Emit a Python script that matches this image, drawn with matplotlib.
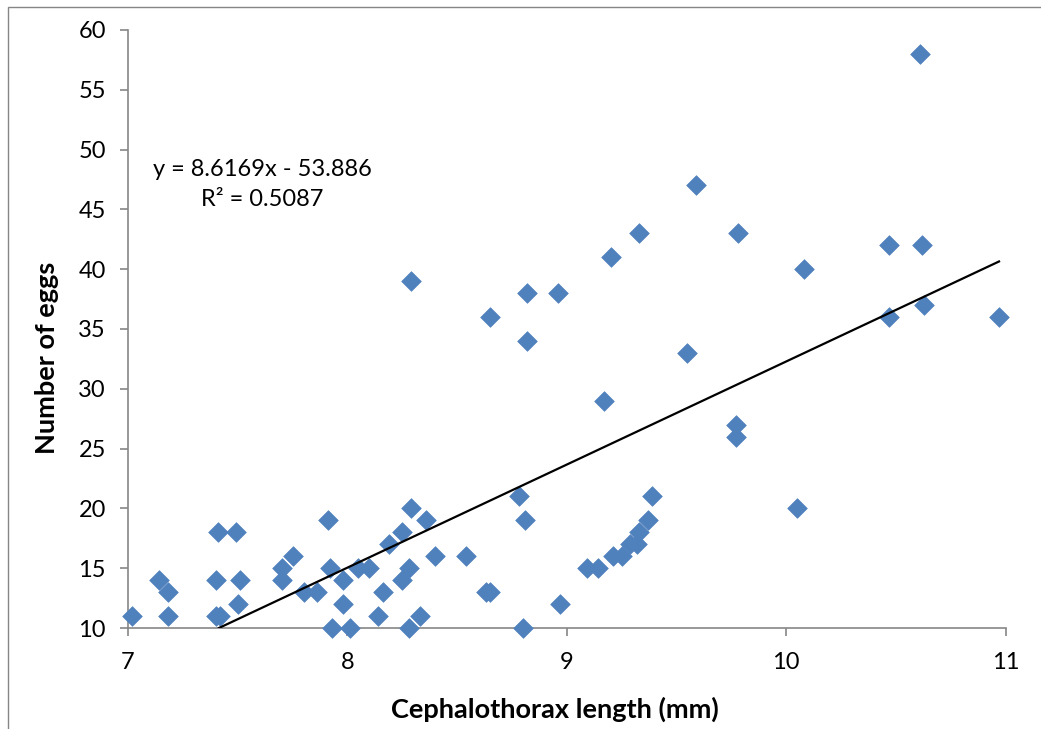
"""Egg count vs cephalothorax length scatter with linear trendline."""

import matplotlib

matplotlib.use("Agg")
import matplotlib.pyplot as plt
from matplotlib.patches import Rectangle

# cephalothorax length (mm) and number of eggs
length_mm = [
    7.02, 7.14, 7.18, 7.18, 7.40, 7.41, 7.49, 7.40, 7.42, 7.51, 7.50,
    7.70, 7.70, 7.75, 7.80, 7.86, 7.91, 7.92, 7.93, 7.98, 7.98, 8.01,
    8.05, 8.10, 8.16, 8.14, 8.19, 8.25, 8.25, 8.28, 8.28, 8.29, 8.29,
    8.33, 8.36, 8.40, 8.54, 8.63, 8.65, 8.65, 8.78, 8.80, 8.81, 8.82,
    8.82, 8.96, 8.97, 9.09, 9.14, 9.17, 9.21, 9.20, 9.25, 9.29, 9.32,
    9.33, 9.33, 9.37, 9.39, 9.55, 9.59, 9.78, 9.77, 9.77, 10.05, 10.08,
    10.47, 10.47, 10.61, 10.62, 10.63, 10.97,
]
eggs = [
    11, 14, 13, 11, 14, 18, 18, 11, 11, 14, 12,
    15, 14, 16, 13, 13, 19, 15, 10, 14, 12, 10,
    15, 15, 13, 11, 17, 18, 14, 15, 10, 20, 39,
    11, 19, 16, 16, 13, 13, 36, 21, 10, 19, 38,
    34, 38, 12, 15, 15, 29, 16, 41, 16, 17, 17,
    18, 43, 19, 21, 33, 47, 43, 27, 26, 20, 40,
    42, 36, 58, 42, 37, 36,
]

slope = 8.6169
intercept = -53.886
r_squared = 0.5087

x_ticks = [7, 8, 9, 10, 11]
y_ticks = [10, 15, 20, 25, 30, 35, 40, 45, 50, 55, 60]

plt.rcParams["font.family"] = ["Lato", "DejaVu Sans"]

W, H = 1041, 729
fig = plt.figure(figsize=(W / 100, H / 100), dpi=100)
ax = fig.add_axes([0.123, 0.1385, 0.843, 0.8205])

# chart-area frame (only the top and left edges are visible in the crop)
fig.patches.append(
    Rectangle((8 / W, -0.5), 2.0, 1.5 - 7 / H, transform=fig.transFigure,
              fill=False, edgecolor="#868686", linewidth=1.0)
)

ax.scatter(length_mm, eggs, marker="D", s=100, color="#4F81BD",
           edgecolors="#4F81BD", linewidths=0.5, zorder=3, clip_on=False)

x0, x1 = min(length_mm), max(length_mm)
x_start = max(x0, (10 - intercept) / slope)
ax.plot([x_start, x1], [slope * x_start + intercept, slope * x1 + intercept],
        color="black", linewidth=1.6, zorder=4)

fig.text(262 / W, 1 - 170 / H, "y = 8.6169x - 53.886", fontsize=17,
         ha="center", va="center")
fig.text(262 / W, 1 - 200 / H, f"R² = {r_squared}", fontsize=17,
         ha="center", va="center")

ax.set_xlim(7, 11)
ax.set_ylim(10, 60)
ax.set_xticks(x_ticks)
ax.set_yticks(y_ticks)
ax.tick_params(labelsize=17, color="#868686", length=6, width=1.2)
ax.tick_params(axis="x", pad=11)
ax.tick_params(axis="y", pad=10)

for side in ["top", "right"]:
    ax.spines[side].set_visible(False)
for side in ["left", "bottom"]:
    ax.spines[side].set_color("#868686")
    ax.spines[side].set_linewidth(1.2)

fig.text(555 / W, 1 - 709 / H, "Cephalothorax length (mm)", fontsize=19.5,
         fontweight="bold", ha="center", va="center")
fig.text(47 / W, 1 - 358 / H, "Number of eggs", fontsize=19.5,
         fontweight="bold", ha="center", va="center", rotation=90)

plt.savefig("out.png", dpi=100)
plt.close()
